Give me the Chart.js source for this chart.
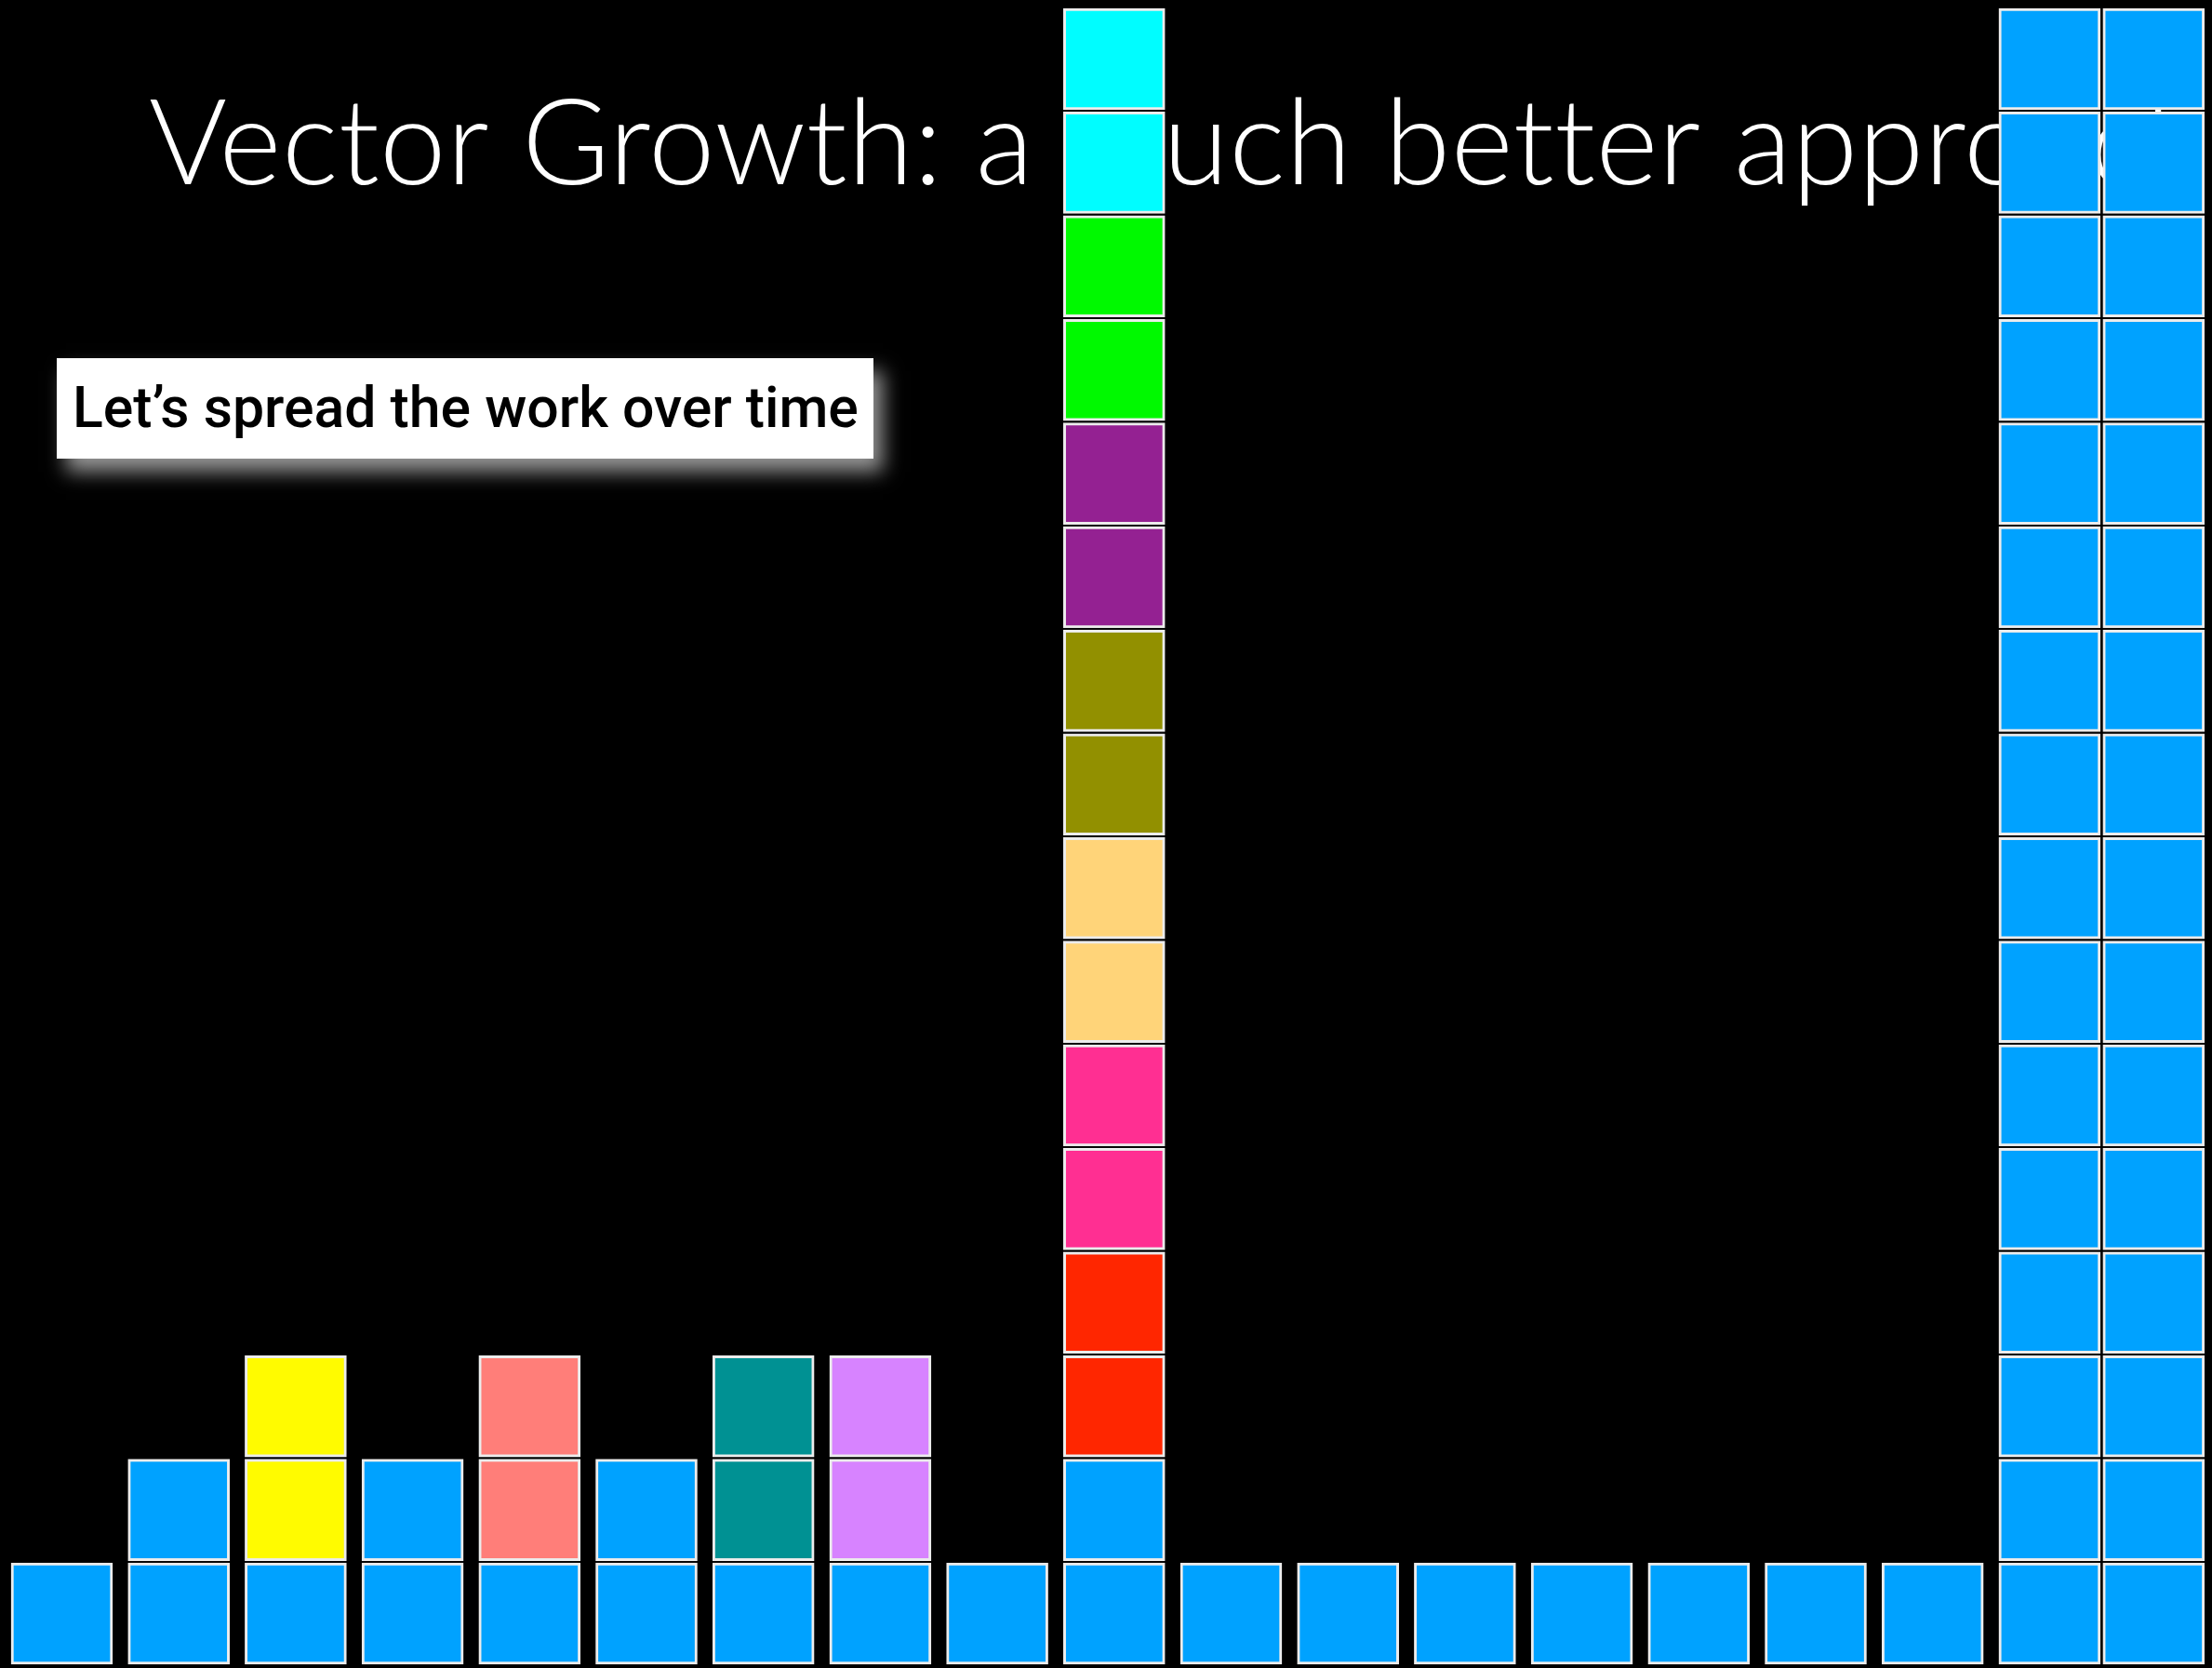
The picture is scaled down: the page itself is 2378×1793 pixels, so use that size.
<!DOCTYPE html>
<html>
<head>
<meta charset="utf-8">
<title>Vector Growth</title>
<script src="https://cdn.jsdelivr.net/npm/chart.js@4.4.1/dist/chart.umd.min.js"></script>
<style>
  html, body { margin: 0; padding: 0; background: #000; }
  canvas { display: block; }
</style>
</head>
<body>
<canvas id="growthChart" width="2378" height="1793"></canvas>
<script>
// columns of squares, left to right (the last two sit side by side)
const columnLabels = ['1','2','3','4','5','6','7','8','9','10','11','12','13','14','15','16','17','18','19'];
const columnX = [0, 1, 2, 3, 4, 5, 6, 7, 8, 9, 10, 11, 12, 13, 14, 15, 16, 17, 17.89];

const palette = {
    blue: '#00A2FF', yellow: '#FFFB00', salmon: '#FF7E79', teal: '#009193',
    lavender: '#D783FF', red: '#FF2600', pink: '#FF2F92', peach: '#FFD479',
    olive: '#929000', purple: '#942192', green: '#00F900', cyan: '#00FDFF'
};

// each column: squares from bottom to top
const columnStacks = [
    ['blue'],
    ['blue', 'blue'],
    ['blue', 'yellow', 'yellow'],
    ['blue', 'blue'],
    ['blue', 'salmon', 'salmon'],
    ['blue', 'blue'],
    ['blue', 'teal', 'teal'],
    ['blue', 'lavender', 'lavender'],
    ['blue'],
    ['blue', 'blue', 'red', 'red', 'pink', 'pink', 'peach', 'peach',
     'olive', 'olive', 'purple', 'purple', 'green', 'green', 'cyan', 'cyan'],
    ['blue'], ['blue'], ['blue'], ['blue'], ['blue'], ['blue'], ['blue'],
    Array(16).fill('blue'),
    Array(16).fill('blue')
];

const titleText = 'Vector Growth: a much better approach';
const noteText = 'Let\u2019s spread the work over time';

// a square fills almost one unit, the rest is the thin black gap
const squareFill = 0.978;

function buildDatasets() {
    const layers = Math.max(...columnStacks.map(s => s.length));
    const sets = [];
    for (let k = 0; k < layers; k++) {
        const data = [];
        const colors = [];
        columnStacks.forEach((stack, i) => {
            if (stack.length > k) {
                data.push({ x: columnX[i], y: [k, k + squareFill] });
                colors.push(palette[stack[k]]);
            }
        });
        sets.push({
            label: 'layer ' + (k + 1),
            data: data,
            backgroundColor: colors,
            borderColor: '#ececec',
            borderWidth: 3,
            borderSkipped: false,
            barThickness: 109,
            grouped: false
        });
    }
    return sets;
}

// fits a font size so the text spans the wanted width
function fitFont(ctx, text, weight, family, baseSize, width) {
    ctx.font = `${weight} ${baseSize}px ${family}`;
    const w = ctx.measureText(text).width;
    return baseSize * width / w;
}

const titlePlugin = {
    id: 'slideTitle',
    beforeDatasetsDraw(chart) {
        const ctx = chart.ctx;
        ctx.save();
        // no "tt" ligature
        ctx.textRendering = 'optimizeSpeed';
        ctx.letterSpacing = '0.5px';
        const fam = 'Lato, "Open Sans", sans-serif';
        const size = fitFont(ctx, titleText, 300, fam, 127, 2218);
        ctx.font = `300 ${size}px ${fam}`;
        ctx.fillStyle = '#ffffff';
        ctx.textBaseline = 'alphabetic';
        ctx.fillText(titleText, 160, 198);
        ctx.restore();
    }
};

const notePlugin = {
    id: 'noteBox',
    afterDraw(chart) {
        const ctx = chart.ctx;
        ctx.save();
        ctx.shadowColor = 'rgba(150,150,150,1)';
        ctx.shadowBlur = 20;
        ctx.shadowOffsetX = 10;
        ctx.shadowOffsetY = 14;
        ctx.fillStyle = '#ffffff';
        ctx.fillRect(61, 385, 878, 108);
        ctx.restore();

        ctx.save();
        const fam = 'Roboto, "Liberation Sans", sans-serif';
        const size = fitFont(ctx, noteText, 500, fam, 56, 845);
        ctx.font = `500 ${size}px ${fam}`;
        ctx.fillStyle = '#000000';
        ctx.textBaseline = 'alphabetic';
        ctx.fillText(noteText, 78, 459);
        ctx.restore();
    }
};

new Chart(document.getElementById('growthChart'), {
    type: 'bar',
    data: { labels: columnLabels, datasets: buildDatasets() },
    options: {
        responsive: false,
        devicePixelRatio: 1,
        animation: false,
        layout: { padding: 0 },
        plugins: { legend: { display: false }, tooltip: { enabled: false } },
        scales: {
            x: { type: 'linear', min: -0.529, max: 18.389, offset: false, display: false },
            y: { type: 'linear', min: -0.036, max: 16.059, display: false }
        }
    },
    plugins: [titlePlugin, notePlugin]
});
</script>
</body>
</html>
